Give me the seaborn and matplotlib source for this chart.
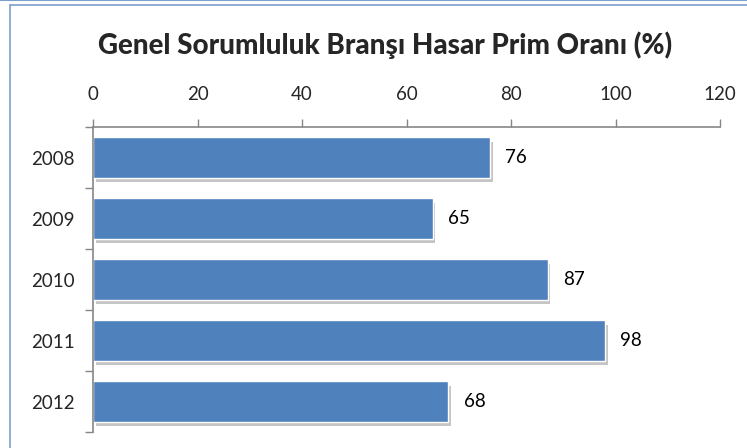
import matplotlib
matplotlib.use('Agg')
import matplotlib.pyplot as plt
import matplotlib.patheffects as pe
from matplotlib.lines import Line2D
import seaborn as sns
import numpy as np

years = ['2008', '2009', '2010', '2011', '2012']
ratios = [76, 65, 87, 98, 68]
xticks = [0, 20, 40, 60, 80, 100, 120]
title = 'Genel Sorumluluk Branşı Hasar Prim Oranı (%)'

sns.set_style('white')
plt.rcParams['font.family'] = ['Lato', 'DejaVu Sans']

fig = plt.figure(figsize=(7.47, 4.48), dpi=100)
ax = fig.add_axes([0.1245, 0.0357, 0.8394, 0.6808])

sns.barplot(x=ratios, y=years, orient='h', color='#4F81BD', saturation=1,
            width=0.66, edgecolor='white', linewidth=1, ax=ax)
for bar in ax.patches:
    bar.set_path_effects([pe.SimplePatchShadow(offset=(2, -3), shadow_rgbFace='#808080', alpha=0.45),
                          pe.Normal()])

ax.bar_label(ax.containers[0], padding=11, fontsize=13.5, color='black')

ax.set_xlim(0, 120)
ax.set_ylim(4.5, -0.5)
ax.set_xticks(xticks)
ax.xaxis.tick_top()
ax.tick_params(axis='x', which='major', direction='out', length=6, width=1,
               color='#868686', pad=11, labelsize=13.5, top=True, bottom=False)
ax.tick_params(axis='y', which='major', length=0, pad=13, labelsize=13.5)
ax.set_yticks(np.arange(-0.5, 5, 1), minor=True)
ax.tick_params(axis='y', which='minor', direction='out', length=6, width=1,
               color='#868686', left=True)
ax.set_xlabel('')
ax.set_ylabel('')

for side in ['bottom', 'right']:
    ax.spines[side].set_visible(False)
for side in ['top', 'left']:
    ax.spines[side].set_color('#868686')
    ax.spines[side].set_linewidth(1.2)

fig.text(0.515, 0.9, title, ha='center', va='center', fontsize=20, fontweight='black')

# chart frame
fig.add_artist(Line2D([10 / 747, 10 / 747], [0, 1 - 5 / 448], color='#7BA0CD', lw=1.2))
fig.add_artist(Line2D([10 / 747, 1], [1 - 5 / 448, 1 - 5 / 448], color='#7BA0CD', lw=1.2))
fig.add_artist(Line2D([0, 1], [1 - 0.5 / 448, 1 - 0.5 / 448], color='#7BA0CD', lw=1.5))

fig.savefig('out.png', dpi=100)
